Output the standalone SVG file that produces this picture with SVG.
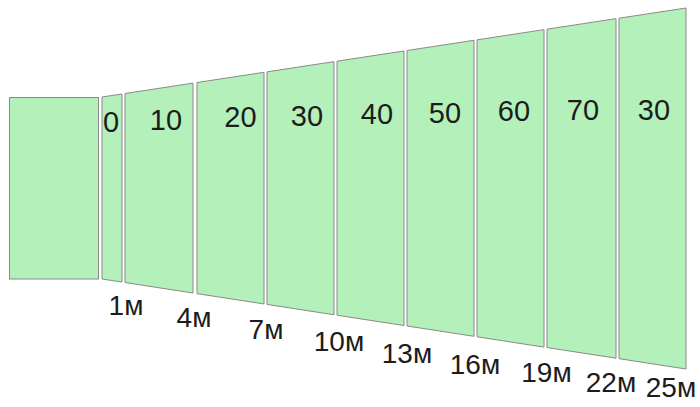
<svg xmlns="http://www.w3.org/2000/svg" width="700" height="407" viewBox="0 0 700 407">
<style>
.seg{fill:#b4f0b9;stroke:#8a8a8a;stroke-width:1}
.n{font-family:"Liberation Sans",Arial,sans-serif;font-size:29px;fill:#1c1c1c;text-anchor:middle}
.d{font-family:"Liberation Sans",Arial,sans-serif;font-size:28px;fill:#1c1c1c;text-anchor:middle}
</style>
<rect width="700" height="407" fill="#ffffff"/>
<g id="base"><rect class="seg" x="9.5" y="97.5" width="89" height="181.5"/></g>
<g id="seg0"><polygon class="seg" points="102,97 122,93.95 122,282.08 102,279"/><text class="n" x="111" y="132">0</text></g>
<g id="seg1"><polygon class="seg" points="125,93.5 193,83.13 193,293.02 125,282.54"/><text class="n" x="166" y="130">10</text></g>
<g id="seg2"><polygon class="seg" points="197,82.52 264,72.31 264,303.96 197,293.64"/><text class="n" x="240.5" y="127">20</text></g>
<g id="seg3"><polygon class="seg" points="267,71.85 334,61.64 334,314.75 267,304.43"/><text class="n" x="307" y="126">30</text></g>
<g id="seg4"><polygon class="seg" points="337,61.19 404,50.98 404,325.54 337,315.21"/><text class="n" x="377" y="124">40</text></g>
<g id="seg5"><polygon class="seg" points="407,50.52 474,40.31 474,336.33 407,326"/><text class="n" x="445" y="123">50</text></g>
<g id="seg6"><polygon class="seg" points="477,39.85 544,29.64 544,347.11 477,336.79"/><text class="n" x="514" y="121">60</text></g>
<g id="seg7"><polygon class="seg" points="547,29.18 616,18.67 616,358.2 547,347.57"/><text class="n" x="583" y="120">70</text></g>
<g id="seg8"><polygon class="seg" points="619,18.21 686,8 686,369 619,358.67"/><text class="n" x="654" y="120">30</text></g>
<g id="connectors"></g>
<g id="distances">
<text class="d" x="126" y="315">1м</text>
<text class="d" x="194" y="327">4м</text>
<text class="d" x="266" y="338.5">7м</text>
<text class="d" x="339" y="350.5">10м</text>
<text class="d" x="407" y="363">13м</text>
<text class="d" x="475" y="374">16м</text>
<text class="d" x="546.5" y="381.5">19м</text>
<text class="d" x="611" y="391.5">22м</text>
<text class="d" x="671" y="397">25м</text>
</g>
</svg>
